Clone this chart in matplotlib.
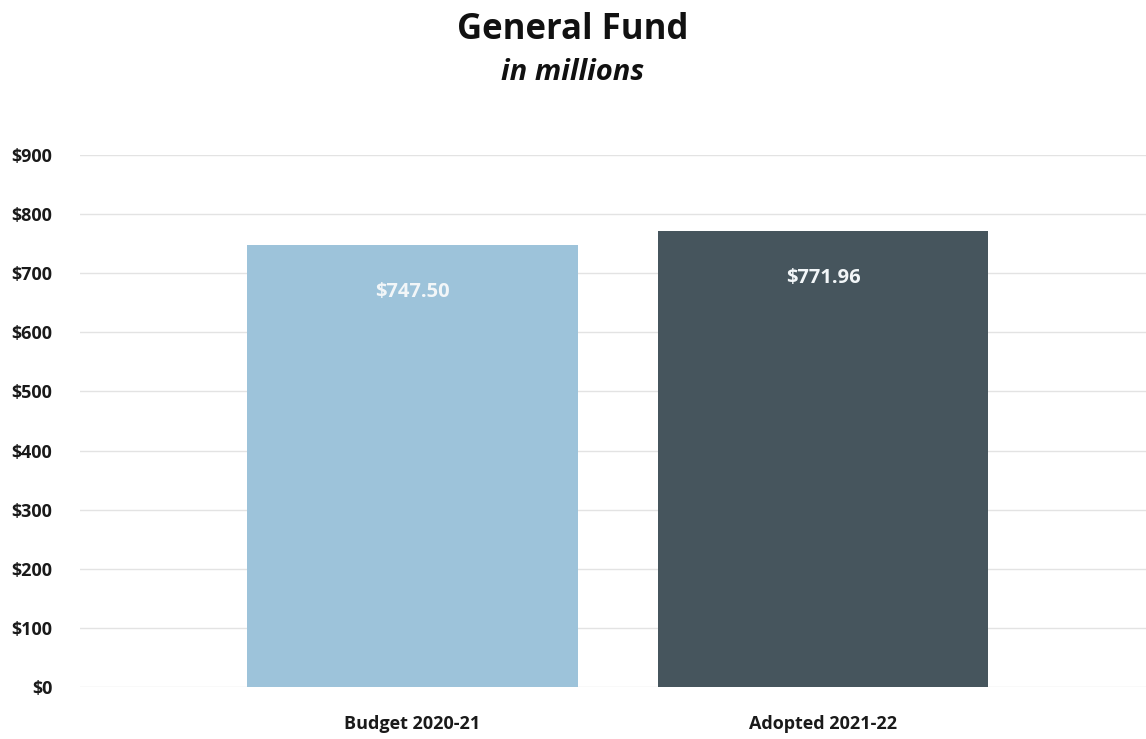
import matplotlib.pyplot as plt
from matplotlib.ticker import FuncFormatter

# General Fund budget, in millions of dollars
categories = ['Budget 2020-21', 'Adopted 2021-22']
values = [747.50, 771.96]
colors = ['#9dc3da', '#46555d']
yticks = [0, 100, 200, 300, 400, 500, 600, 700, 800, 900]

plt.rcParams['font.family'] = ['Open Sans', 'DejaVu Sans']

fig = plt.figure(figsize=(11.46, 7.39), dpi=100)
ax = fig.add_axes([80 / 1146, (739 - 687) / 739, 1066 / 1146, 532 / 739])

x = list(range(len(categories)))
bars = ax.bar(x, values, width=0.806, color=colors, zorder=2)

# value labels sit inside the top of each bar
for b, v in zip(bars, values):
    ax.annotate(f'${v:,.2f}', (b.get_x() + b.get_width() / 2, v),
                xytext=(0, -47), textcoords='offset pixels',
                ha='center', va='center', color='#f2f6f8',
                fontsize=14.5, fontweight='bold')

ax.set_xlim(-0.81, 1.787)
ax.set_ylim(0, 900)
ax.set_yticks(yticks)
ax.yaxis.set_major_formatter(FuncFormatter(lambda v, p: f'${v:,.0f}'))
ax.set_xticks(x)
ax.set_xticklabels(categories)
ax.grid(axis='y', color='#e3e3e3', linewidth=1, zorder=0)
for s in ax.spines.values():
    s.set_visible(False)
ax.tick_params(length=0, labelsize=13, labelcolor='#1a1a1a')
ax.tick_params(axis='y', pad=20)
ax.tick_params(axis='x', pad=20)
for lbl in ax.get_xticklabels() + ax.get_yticklabels():
    lbl.set_fontweight('bold')

fig.text(0.5, 1 - 30 / 739, 'General Fund', ha='center', va='center',
         fontsize=25, fontweight='bold', color='#111111')
fig.text(0.5, 1 - 73 / 739, 'in millions', ha='center', va='center',
         fontsize=21, fontweight='bold', style='italic', color='#111111')

fig.savefig('out.png', dpi=100)
